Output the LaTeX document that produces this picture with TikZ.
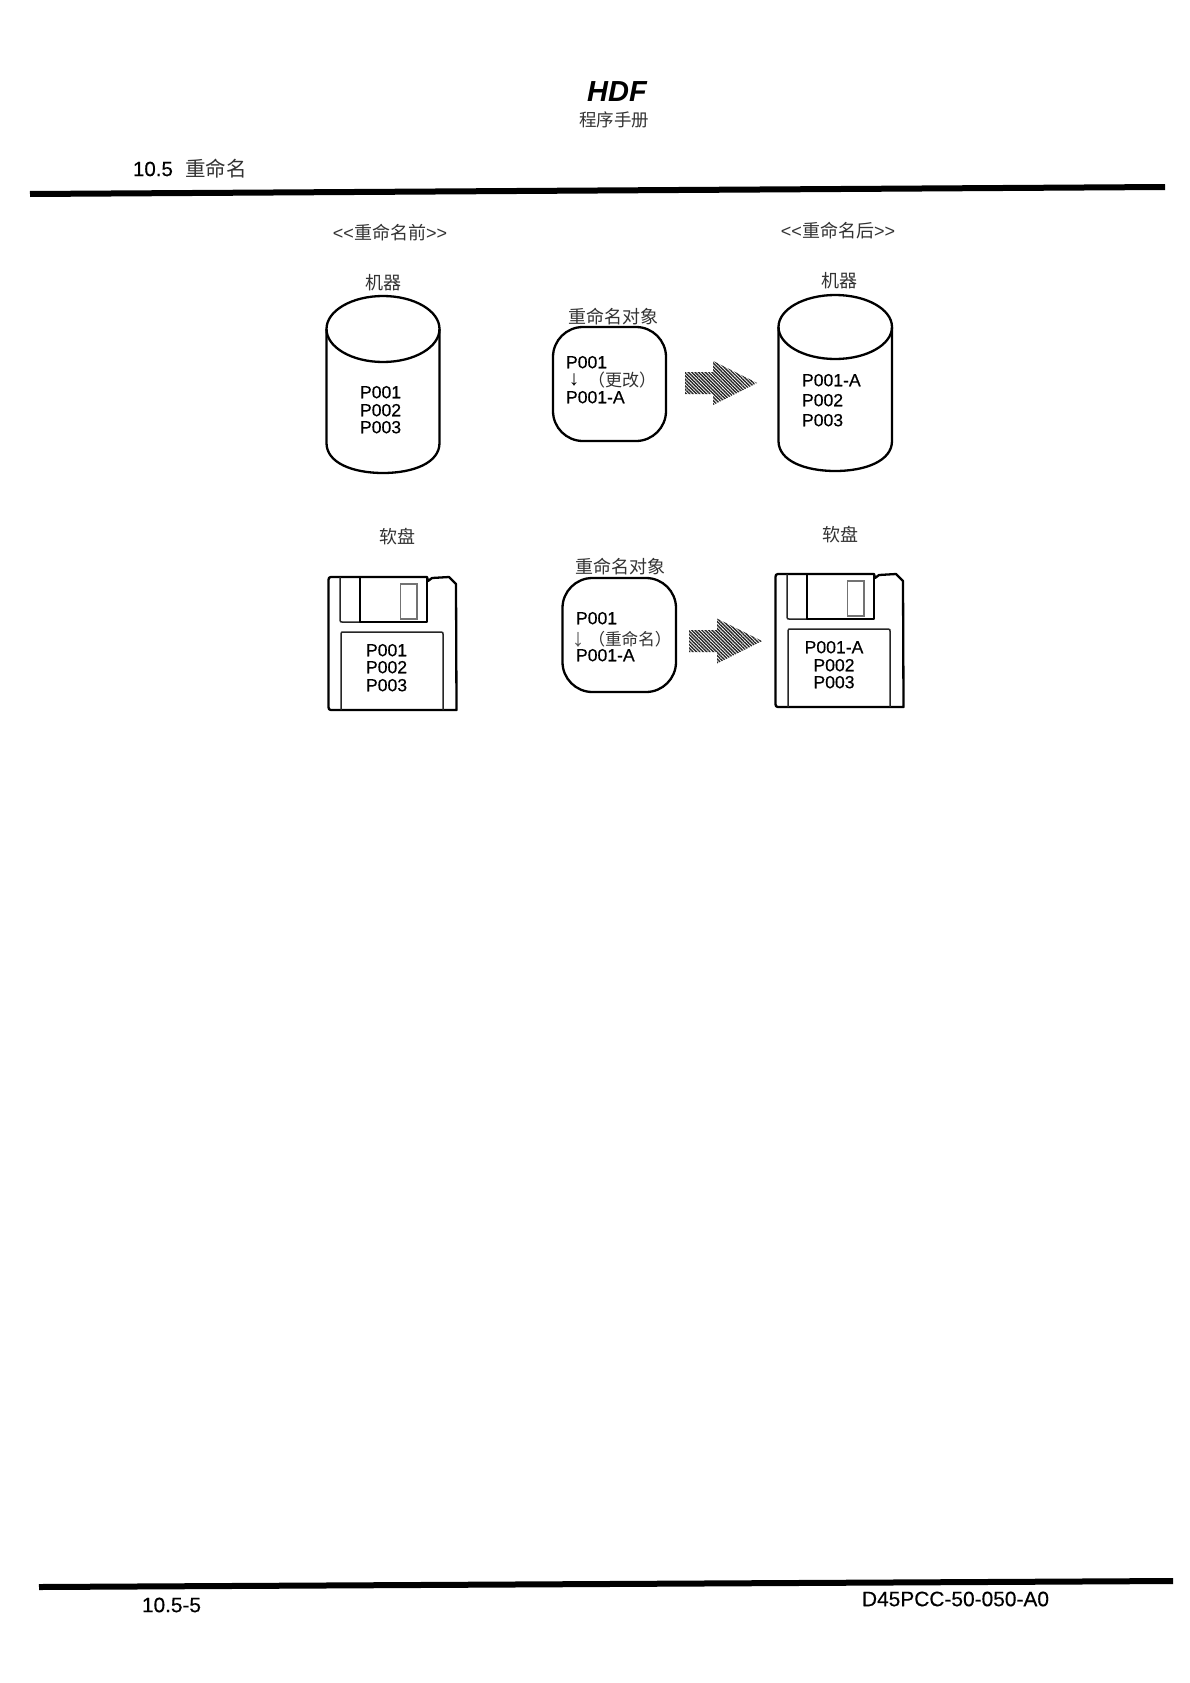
\documentclass[tikz,border=0pt]{standalone}
\usepackage{fontspec}
\setmainfont{Liberation Sans}
\newfontfamily\heavy{Liberation Sans}[FakeBold=0.35]
\newfontfamily\cjk{Noto Sans CJK SC}
\usetikzlibrary{patterns.meta}
\newcommand{\fs}[1]{\fontsize{#1}{#1}\selectfont}
\tikzset{
  x=1pt,y=-1pt,
  every node/.style={inner sep=0pt,outer sep=0pt},
  lat/.style={font=\fs{17.6}\heavy,anchor=west,text=black,yshift=0.8pt},
  latc/.style={font=\fs{17.6}\heavy,anchor=center,text=black,yshift=0.8pt},
  zh/.style={font=\fs{18}\cjk,anchor=center,text=black!80},
  outline/.style={draw=black,line width=2.3pt,line join=round},
  thin outline/.style={draw=black!85,line width=1.5pt,line join=round},
  hatch/.style={pattern={Lines[angle=-45,distance=2.4pt,line width=1.4pt]},pattern color=black!85,draw=none},
  rule/.style={line width=6pt,draw=black},
}
\newcommand{\cyl}[5]{%
  \pgfmathsetmacro{\cx}{(#1+#2)/2}
  \pgfmathsetmacro{\rx}{(#2-#1)/2}
  \pgfmathsetmacro{\ry}{#4-#3}
  \draw[outline] (\cx,#4) ellipse [x radius=\rx,y radius=\ry];
  \draw[outline] (#1,#4) -- (#1,#5) .. controls (#1,#5+20) and (\cx-30,#5+30) .. (\cx,#5+30)
     .. controls (\cx+30,#5+30) and (#2,#5+20) .. (#2,#5) -- (#2,#4);
}
\newcommand{\floppy}[2]{%
  \begin{scope}[shift={(#1,#2)}]
    \draw[outline] (331,577) -- (427,577) -- (428,581) -- (432,578) -- (449,577) -- (456,584) -- (456.5,710) -- (331,710) .. controls (329,710) and (328.5,709) .. (328.5,707) -- (328.5,580) .. controls (328.5,578) and (329,577) .. (331,577) -- cycle;
    \draw[thin outline] (340,577) -- (340,620) .. controls (340,622) and (341,622) .. (342,622) -- (360,622);
    \draw[outline] (360,577) -- (360,622) -- (427,622) -- (427,577);
    \draw[draw=black!55,line width=1.2pt] (400.5,584) rectangle (417,619);
    \draw[thin outline] (341,710) -- (341,634) .. controls (341,632) and (342,632) .. (343,632) -- (441,632) .. controls (443,632) and (443,633) .. (443,634) -- (443,710);
  \end{scope}
}
\newcommand{\bigarrow}[6]{%
  \fill[hatch] (#1,#4-#5) -- (#2,#4-#5) -- (#2,#4-#6) -- (#3,#4) -- (#2,#4+#6) -- (#2,#4+#5) -- (#1,#4+#5) -- cycle;
}
\begin{document}
\begin{tikzpicture}
\useasboundingbox[fill=white] (0,0) rectangle (1190,1683);
% rules
\coordinate (rtl) at (30,194); \coordinate (rtr) at (1165,187);
\draw[rule] (rtl) -- (rtr);
\coordinate (rbl) at (39,1587); \coordinate (rbr) at (1173,1581);
\draw[rule] (rbl) -- (rbr);
% header
\node[font=\fs{29}\bfseries\itshape] (hdf) at (617,92) {HDF};
\node[zh,font=\fs{17.5}\cjk] (sub) at (614,120) {程序手册};
\node[anchor=west,font=\fs{20.5}\heavy] (secn) at (133,169) {10.5};
\node[zh,font=\fs{20.5}\cjk] (sect) at (216,168.5) {重命名};
% headings
\node[zh] (before) at (390,233) {{\fontspec{Liberation Sans}<<}重命名前{\fontspec{Liberation Sans}>>}};
\node[zh] (after) at (838,231) {{\fontspec{Liberation Sans}<<}重命名后{\fontspec{Liberation Sans}>>}};
\node[zh] (m1) at (383,283) {机器};
\node[zh] (m2) at (839,281) {机器};
\node[zh] (t1) at (613,317) {重命名对象};
\node[zh] (t2) at (620,567) {重命名对象};
\node[zh] (f1) at (397,537) {软盘};
\node[zh] (f2) at (840,535) {软盘};
% cylinders
\cyl{326.5}{439.5}{296}{329}{443}
\cyl{778.5}{892}{295}{327}{441}
\node[lat] (c1a) at (360,393) {P001};
\node[lat] (c1b) at (360,411) {P002};
\node[lat] (c1c) at (360,428) {P003};
\node[lat] (c2a) at (802,381) {P001-A};
\node[lat] (c2b) at (802,401) {P002};
\node[lat] (c2c) at (802,421) {P003};
% rounded boxes
\draw[outline,rounded corners=30pt] (553,327) rectangle (666,441);
\draw[outline,rounded corners=30pt] (562.5,578) rectangle (676,692);
\node[lat] (b1a) at (566,363) {P001};
\node[latc,font=\fs{21}] (b1arr) at (574,381) {↓};
\node[zh,anchor=west,font=\fs{17}\cjk] (b1c) at (588,380) {（更改）};
\node[lat] (b1b) at (566,398) {P001-A};
\node[lat] (b2a) at (576,619) {P001};
\node[zh,anchor=west,font=\fs{16.6}\cjk] (b2c) at (588.5,639) {（重命名）};
\node[latc,font=\fs{25},text=black!65] (b2arr) at (578,641) {↓};
\node[lat] (b2b) at (576,656) {P001-A};
% hatched arrows
\bigarrow{685}{713}{757}{383}{11}{22}
\bigarrow{689}{717}{762}{641}{11}{22.5}
% floppies
\floppy{0}{0}
\floppy{447}{-3}
\node[lat] (f1a) at (366,651) {P001};
\node[lat] (f1b) at (366,668) {P002};
\node[lat] (f1c) at (366,686) {P003};
\node[latc] (f2a) at (834,648) {P001-A};
\node[latc] (f2b) at (834,666) {P002};
\node[latc] (f2c) at (834,683) {P003};
% footer
\node[anchor=west,font=\fs{20.8}\heavy] (pg) at (142,1605) {10.5-5};
\node[anchor=west,font=\fs{20.9}\heavy] (doc) at (862,1599) {D45PCC-50-050-A0};
\end{tikzpicture}
\end{document}
